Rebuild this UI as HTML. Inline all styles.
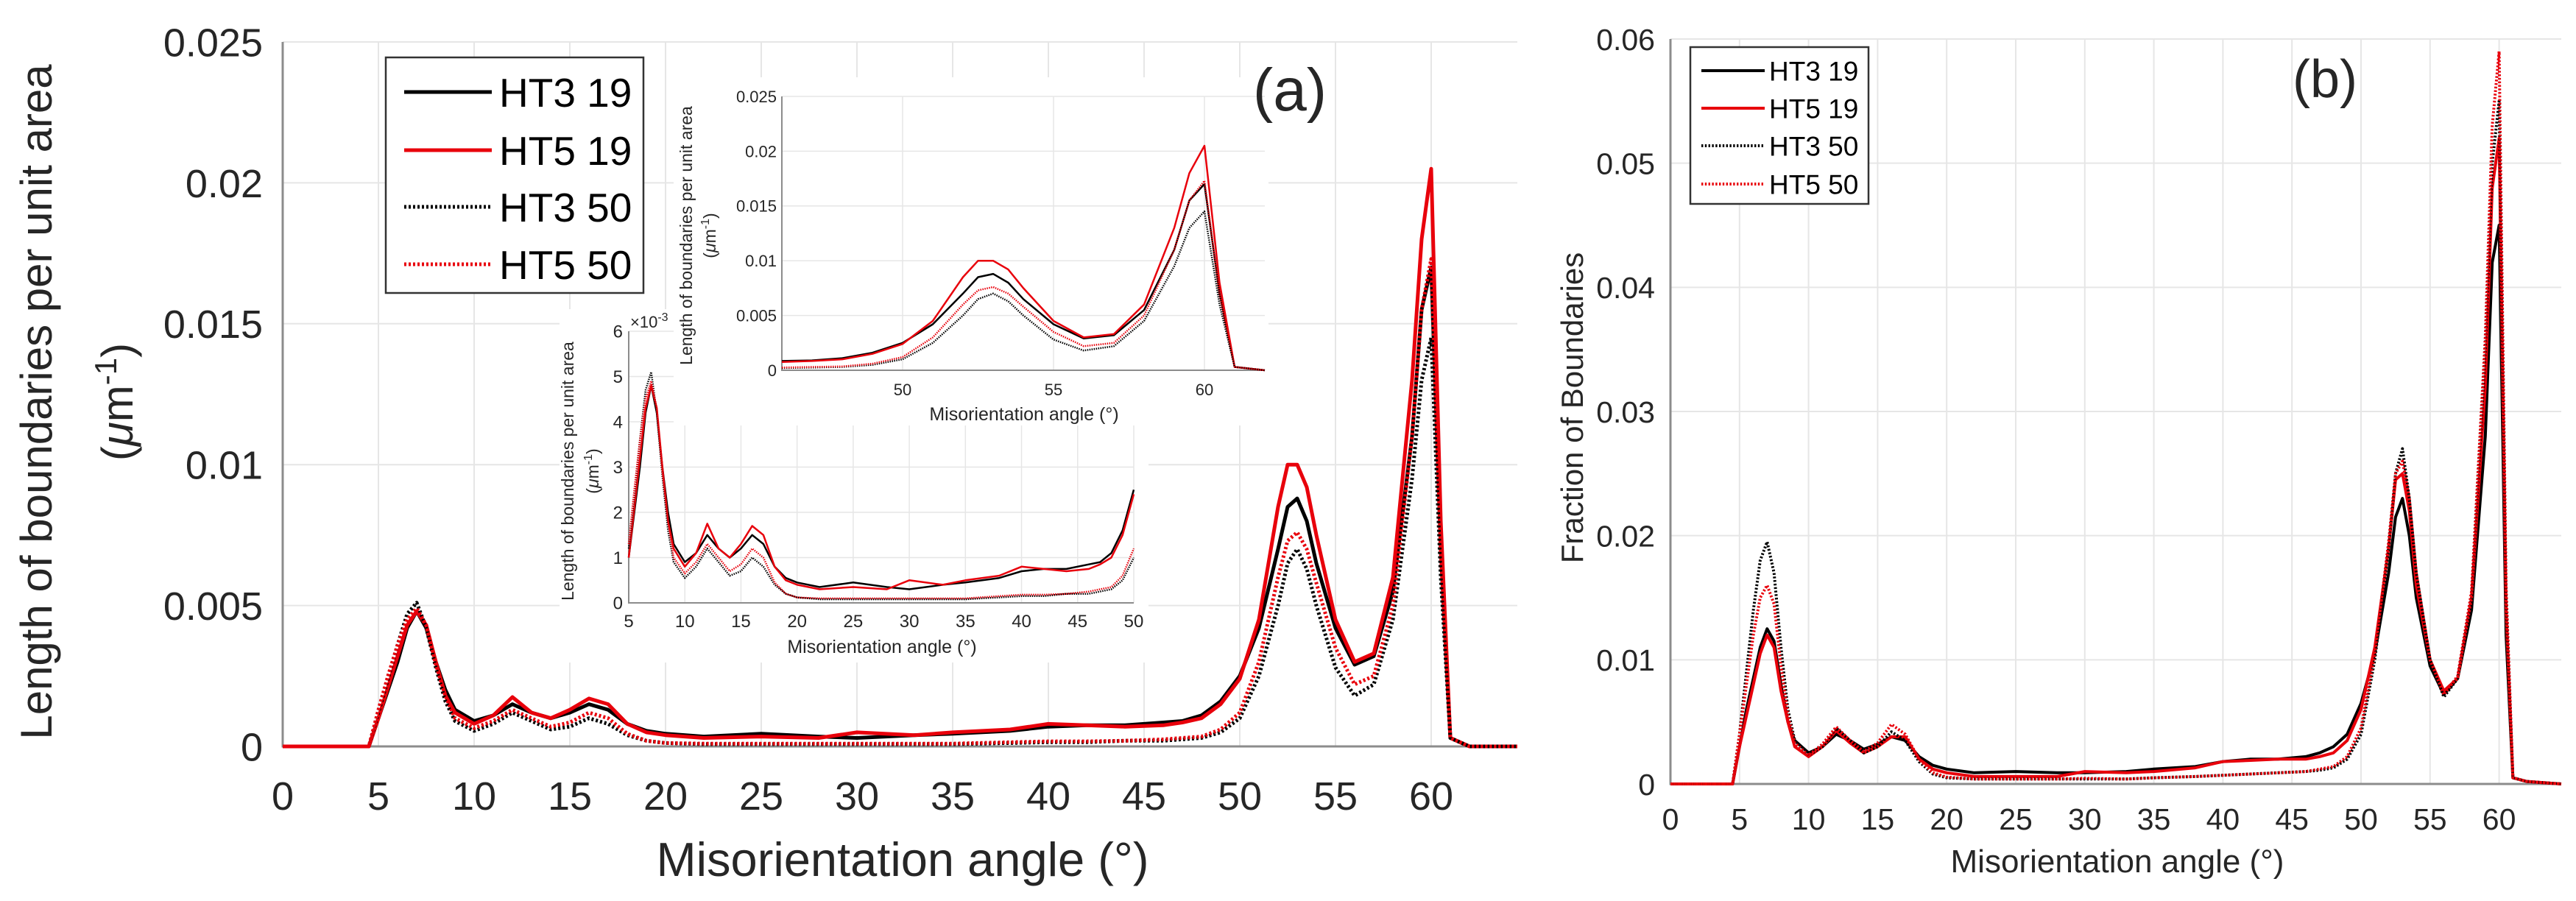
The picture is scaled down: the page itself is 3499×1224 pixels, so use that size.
<!DOCTYPE html>
<html><head><meta charset="utf-8"><style>
body{margin:0;background:#fff}
svg{display:block;font-family:"Liberation Sans",sans-serif}
</style></head><body>
<svg id="fig" width="3499" height="1224" viewBox="0 0 3499 1224" xmlns="http://www.w3.org/2000/svg">
<rect width="3499" height="1224" fill="#fff"/>
<g id="pa"></g>
<g id="pb"></g>
</svg>
<script>
const xs=[0,4,4.5,5,5.5,6,6.5,7,7.5,8,8.5,9,10,11,12,13,14,15,16,17,18,19,20,22,25,28,30,33,35,38,40,42,44,46,47,48,49,50,51,52,52.5,53,53.5,54,55,56,57,58,59,59.5,60,60.5,61,62,64.5];
// panel a (x1e-3)
const aHT3_19=[0,0,0,1.0,2.0,3.0,4.2,4.8,4.2,3.0,2.0,1.3,0.9,1.1,1.5,1.2,1.0,1.2,1.5,1.3,0.8,0.55,0.45,0.35,0.45,0.35,0.3,0.4,0.45,0.55,0.7,0.75,0.75,0.85,0.9,1.1,1.6,2.5,4.2,7.0,8.5,8.8,8.0,6.5,4.2,2.9,3.2,5.5,11,15.5,17,7,0.3,0,0];
const aHT5_19=[0,0,0,1.0,2.1,3.2,4.3,4.8,4.3,3.0,1.8,1.2,0.8,1.1,1.75,1.2,1.0,1.3,1.7,1.5,0.8,0.5,0.4,0.3,0.35,0.3,0.5,0.4,0.5,0.6,0.8,0.75,0.7,0.75,0.85,1.0,1.5,2.4,4.5,8.5,10,10,9.2,7.5,4.5,3.0,3.3,6.0,13,18,20.5,8,0.3,0,0];
const aHT3_50=[0,0,0,1.2,2.4,3.6,4.7,5.1,4.2,2.8,1.6,0.9,0.55,0.8,1.2,0.9,0.6,0.7,1.0,0.8,0.4,0.2,0.12,0.08,0.08,0.08,0.08,0.08,0.08,0.12,0.15,0.15,0.2,0.2,0.25,0.3,0.5,1.0,2.5,5.0,6.5,7.0,6.3,5.0,2.8,1.8,2.2,4.5,9.5,13,14.5,6,0.3,0,0];
const aHT5_50=[0,0,0,1.3,2.5,3.6,4.5,4.9,4.3,2.9,1.8,1.0,0.65,0.9,1.3,1.0,0.7,0.85,1.2,1.0,0.45,0.2,0.12,0.1,0.1,0.1,0.1,0.1,0.1,0.15,0.18,0.18,0.2,0.25,0.3,0.35,0.6,1.2,3.0,6.0,7.3,7.6,7.0,5.8,3.5,2.2,2.5,5.0,11,15.5,17.3,7,0.3,0,0];
// panel b (x1e-3)
const bHT3_19=[0,0,0,3,6,8.5,11,12.5,11.5,8,5,3.5,2.5,3,4,3.5,2.8,3.2,3.8,3.5,2.2,1.5,1.2,0.9,1.0,0.9,0.9,1.0,1.2,1.4,1.8,2.0,2.0,2.2,2.5,3.0,4.0,6.5,10.5,17,21.5,23,20,15,9.5,7.2,8.5,14,28,42,45,12,0.5,0.2,0];
const bHT5_19=[0,0,0,3,5.5,8,10.5,12,11,7.5,5,3,2.2,3,4.3,3.3,2.5,3,3.8,3.8,2,1.2,0.9,0.6,0.6,0.6,1.0,0.9,1.0,1.3,1.8,1.9,2.0,2.0,2.2,2.5,3.5,6,11,19,24.5,25,22,16,10,7.5,8.5,15,32,48,52,14,0.5,0.2,0];
const bHT3_50=[0,0,0,4,9,14,18,19.5,17,11,6,3.5,2.3,3,4.5,3.5,2.5,3,4.2,3.5,1.8,0.8,0.5,0.4,0.4,0.4,0.4,0.4,0.5,0.6,0.7,0.8,0.9,1.0,1.1,1.3,2,4,10,19,25,27,23,17,10,7,8.5,15,35,50,55,15,0.5,0.2,0];
const bHT5_50=[0,0,0,4,8,12,15,16,14.5,9.5,5.5,3.3,2.3,3.2,4.6,3.5,2.6,3.3,4.8,4,2,0.9,0.55,0.4,0.4,0.4,0.45,0.4,0.5,0.6,0.7,0.8,0.9,1.0,1.2,1.4,2.2,4.5,10.5,19.5,25,26,23,17,10,7.2,8.7,15.5,36,53,59,16,0.5,0.2,0];
const seriesNames=["HT3 19","HT5 19","HT3 50","HT5 50"];
const aTicksX=[0,5,10,15,20,25,30,35,40,45,50,55,60];
const aTicksY=[0,0.005,0.01,0.015,0.02,0.025];
const aTickLabelsY=["0","0.005","0.01","0.015","0.02","0.025"];
const bTicksY=[0,0.01,0.02,0.03,0.04,0.05,0.06];
const bTickLabelsY=["0","0.01","0.02","0.03","0.04","0.05","0.06"];
const in1TicksX=[50,55,60];
const in1TickLabelsY=["0","0.005","0.01","0.015","0.02","0.025"];
const in2TicksX=[5,10,15,20,25,30,35,40,45,50];
const in2TicksY=[0,1,2,3,4,5,6];

const NS="http://www.w3.org/2000/svg";
function mk(parent,tag,attrs){const e=document.createElementNS(NS,tag);for(const k in attrs)e.setAttribute(k,attrs[k]);parent.appendChild(e);return e;}
function scale(d0,d1,r0,r1){return v=>r0+(v-d0)/(d1-d0)*(r1-r0);}
const styles=[{c:"#000",d:""},{c:"#e8000b",d:""},{c:"#000",d:"dot"},{c:"#e8000b",d:"dot"}];

function drawAxes(g,o){
  const X=scale(o.x0,o.x1,o.L,o.R),Y=scale(o.y0,o.y1,o.B,o.T);
  if(o.bg){const r=mk(g,"rect",{x:o.bg[0],y:o.bg[1],width:o.bg[2],height:o.bg[3],fill:"#fff"});}
  o.tx.forEach(t=>{const l=mk(g,"line",{x1:X(t),x2:X(t),y1:o.T,y2:o.B,stroke:"#e6e6e6","stroke-width":o.gw});});
  o.ty.forEach(t=>{const l=mk(g,"line",{x1:o.L,x2:o.R,y1:Y(t),y2:Y(t),stroke:"#e6e6e6","stroke-width":o.gw});});
  const ax=mk(g,"path",{d:`M${o.L},${o.T}V${o.B}H${o.R}`,fill:"none",stroke:"#8c8c8c","stroke-width":o.aw});
  
  o.tx.forEach(t=>{const e=mk(g,"text",{x:X(t),y:o.xly,"text-anchor":"middle","font-size":o.fs,fill:"#262626"});e.textContent=String(t);});
  o.ty.forEach((t,i)=>{const e=mk(g,"text",{x:o.ylx,y:Y(t)+o.fs*0.36,"text-anchor":"end","font-size":o.fs,fill:"#262626"});e.textContent=o.tyl[i];});
  return {X,Y};
}
function drawSeries(g,S,arrs,mult,lw,clip){
  arrs.forEach((arr,i)=>{
    let d="";xs.forEach((x,j)=>{if(clip&&(x<clip[0]||x>clip[1]))return;d+=(d?"L":"M")+S.X(x).toFixed(1)+","+S.Y(arr[j]*mult).toFixed(1);});
    const p=mk(g,"path",{d:d,fill:"none",stroke:styles[i].c,"stroke-width":lw,"stroke-linejoin":"round"});
    if(styles[i].d)p.setAttribute("stroke-dasharray",`${lw*0.6},${lw*0.6}`);
    
    
  });
}
function txt(g,x,y,s,fs,name,rot,anchor){const e=mk(g,"text",{x:x,y:y,"font-size":fs,fill:"#262626","text-anchor":anchor||"middle"});if(rot)e.setAttribute("transform",`rotate(-90 ${x} ${y})`);e.innerHTML=s;return e;}
function legend(g,x,y,w,h,lx1,lx2,tx,rows,fs,lw){
  const lg=mk(g,"g",{});
  mk(lg,"rect",{x:x,y:y,width:w,height:h,fill:"#fff",stroke:"#333","stroke-width":2.5});
  seriesNames.forEach((n,i)=>{
    const l=mk(lg,"line",{x1:lx1,x2:lx2,y1:rows[i],y2:rows[i],stroke:styles[i].c,"stroke-width":lw});
    if(styles[i].d)l.setAttribute("stroke-dasharray",`${lw*0.6},${lw*0.6}`);
    
    const t=mk(lg,"text",{x:tx,y:rows[i]+fs*0.36,"font-size":fs,fill:"#000"});t.textContent=n;
    
  });
}
// Panel A
const pa=document.getElementById("pa");
const SA=drawAxes(pa,{x0:0,x1:64.5,y0:0,y1:0.025,L:384,R:2061,T:57,B:1014,tx:aTicksX,ty:aTicksY,tyl:aTickLabelsY,fs:54,xly:1100,ylx:357,gw:2,aw:3});
drawSeries(pa,SA,[aHT3_19,aHT5_19,aHT3_50,aHT5_50],1e-3,5);
txt(pa,70,546,"Length of boundaries per unit area",60,"y-axis-title",true);
txt(pa,180,546,"(<tspan font-style='italic'>μ</tspan>m<tspan dy='-22' font-size='42'>-1</tspan><tspan dy='22'>)</tspan>",60,"y-axis-title-unit",true);
txt(pa,1226,1190,"Misorientation angle (°)",65,"x-axis-title");
legend(pa,524,78,350,320,549,668,678,[125,204,281,359],55,5);
// Inset 2 (drawn first, beneath inset 1)
const SI2=drawAxes(pa,{x0:5,x1:50,y0:0,y1:6,L:854,R:1540,T:450,B:819,tx:in2TicksX,ty:in2TicksY,tyl:in2TicksY.map(String),fs:24,xly:852,ylx:846,gw:1.5,aw:2,bg:[760,420,800,480]});
drawSeries(pa,SI2,[aHT3_19,aHT5_19,aHT3_50,aHT5_50],1,2.5,[5,50]);
txt(pa,779,640,"Length of boundaries per unit area",23,"inset2-y-title",true);
txt(pa,813,640,"(<tspan font-style='italic'>μ</tspan>m<tspan dy='-9' font-size='16'>-1</tspan><tspan dy='9'>)</tspan>",23,"inset2-y-unit",true);
txt(pa,1198,887,"Misorientation angle (°)",25,"inset2-x-title");
txt(pa,856,445,"×10<tspan dy='-9' font-size='16'>-3</tspan>",22,"inset2-exponent",false,"start");
// Inset 1
const SI1=drawAxes(pa,{x0:46,x1:62,y0:0,y1:0.025,L:1062,R:1718,T:131,B:503,tx:in1TicksX,ty:aTicksY,tyl:in1TickLabelsY,fs:22,xly:537,ylx:1055,gw:1.5,aw:2,bg:[915,105,808,473]});
drawSeries(pa,SI1,[aHT3_19,aHT5_19,aHT3_50,aHT5_50],1e-3,2.5,[46,62]);
txt(pa,940,320,"Length of boundaries per unit area",23,"inset1-y-title",true);
txt(pa,972,320,"(<tspan font-style='italic'>μ</tspan>m<tspan dy='-9' font-size='16'>-1</tspan><tspan dy='9'>)</tspan>",23,"inset1-y-unit",true);
txt(pa,1391,571,"Misorientation angle (°)",25,"inset1-x-title");
txt(pa,1752,150,"(a)",82,"panel-label-a");
// Panel B
const pb=document.getElementById("pb");
const SB=drawAxes(pb,{x0:0,x1:64.5,y0:0,y1:0.06,L:2269,R:3479,T:53,B:1065,tx:aTicksX,ty:bTicksY,tyl:bTickLabelsY,fs:41,xly:1127,ylx:2248,gw:2,aw:3});
drawSeries(pb,SB,[bHT3_19,bHT5_19,bHT3_50,bHT5_50],1e-3,4);
txt(pb,2150,554,"Fraction of Boundaries",42,"y-axis-title-b",true);
txt(pb,2876,1185,"Misorientation angle (°)",44,"x-axis-title-b");
txt(pb,3158,132,"(b)",72,"panel-label-b");
legend(pb,2296,64,242,213,2311,2397,2403,[96,147,198,250],37,4);
</script>
</body></html>
